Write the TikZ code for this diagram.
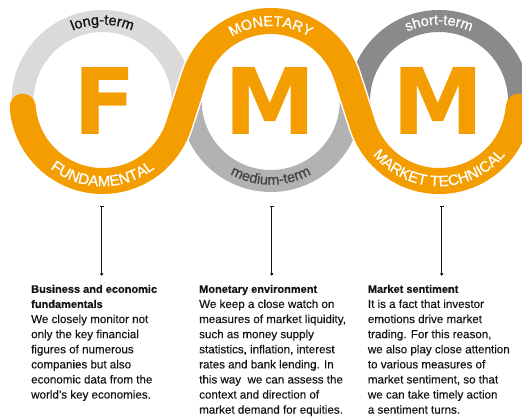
\documentclass[tikz,border=0pt]{standalone}
\usepackage{fontspec}
\setmainfont{Liberation Sans}
\newfontfamily\bigfont{DejaVu Sans}
\newfontfamily\arcfam[FakeBold=0.9]{Liberation Sans}
\newfontfamily\bodyfam[FakeBold=0.3]{Liberation Sans}
\usetikzlibrary{decorations.text, calc}
\definecolor{orng}{RGB}{243,157,0}
\definecolor{gA}{RGB}{218,218,218}
\definecolor{gB}{RGB}{178,178,178}
\definecolor{gC}{RGB}{138,138,138}
\definecolor{txt}{RGB}{20,20,20}
\definecolor{txtB}{RGB}{70,70,70}
\newcommand\arcfont{\arcfam\fontsize{14.4}{14.4}\selectfont}
\newcommand\arcfontb{\arcfam\fontsize{15}{15}\selectfont}
\newcommand\ttlfont{\bfseries\fontsize{11}{15.1}\selectfont}
\begin{document}
\begin{tikzpicture}[x=1pt,y=1pt,
  ring/.style={line width=22pt},
  bigletter/.style={inner sep=0pt, text=orng, font=\bigfont\bfseries\fontsize{92}{92}\selectfont},
  wave/.style={orng, line width=26pt, line cap=round, preaction={draw=white, line width=29pt}},
  conn/.style={draw=txt, line width=0.8pt},
  body/.style={inner sep=0pt, align=left, text=txt, anchor=north west, font=\bodyfam\fontsize{11.6}{15.1}\selectfont}
]
\useasboundingbox (0,0) rectangle (522,419);
\clip (0,0) rectangle (522,419);
\coordinate (C1) at (102.5,318);
\coordinate (C2) at (270.75,318);
\coordinate (C3) at (439,318);
% gray rings
\draw[ring, gA] (C1) circle[radius=80];
\draw[ring, gB] (C2) circle[radius=80];
\draw[ring, gC] (C3) circle[radius=80];
% orange wave
\draw[wave] ($(C1)+(184:80)$) arc[start angle=184, end angle=342, radius=80]
  -- ($(C2)+(162:80)$) arc[start angle=162, end angle=18, radius=80]
  -- ($(C3)+(198:80)$) arc[start angle=198, end angle=356, radius=80];
% arc labels
\path[decorate, decoration={text along path, text align=center, text color=txt, text={|\arcfont|long-term}}]
  ($(C1)+(150:76.3)$) arc[start angle=150, end angle=30, radius=76.3];
\path[decorate, decoration={text along path, text align=center, text color=white, text={|\arcfontb|FUNDAMENTAL}}]
  ($(C1)+(195:85.3)$) arc[start angle=195, end angle=345, radius=85.3];
\path[decorate, decoration={text along path, text align=center, text color=white, text={|\arcfont|MONETARY}}]
  ($(C2)+(150:75)$) arc[start angle=150, end angle=30, radius=75];
\path[decorate, decoration={text along path, text align=center, text color=txtB, text={|\arcfont|medium-term}}]
  ($(C2)+(200:83.7)$) arc[start angle=200, end angle=340, radius=83.7];
\path[decorate, decoration={text along path, text align=center, text color=white, text={|\arcfont|short-term}}]
  ($(C3)+(150:76.3)$) arc[start angle=150, end angle=30, radius=76.3];
\path[decorate, decoration={text along path, text align=center, text color=white, text={|\arcfontb|MARKET TECHNICAL}}]
  ($(C3)+(185:85.3)$) arc[start angle=185, end angle=355, radius=85.3];
% big letters
\node[bigletter] (F1) at (105,318.5) {F};
\node[bigletter] (M2) at (270.5,318.5) {M};
\node[bigletter] (M3) at (438.5,318.5) {M};
% connectors
\coordinate (L1t) at (101.7,213); \coordinate (L1b) at (101.7,145);
\coordinate (L2t) at (271.7,213); \coordinate (L2b) at (271.7,145);
\coordinate (L3t) at (441.7,213); \coordinate (L3b) at (441.7,145);
\foreach \i in {1,2,3}{
  \draw[conn] (L\i t) -- (L\i b);
  \draw[conn] ($(L\i t)+(-2,0)$) -- ($(L\i t)+(2,0)$);
  \fill[txt] (L\i b) circle[radius=1.6];
}
% text blocks
\node[body] (T1) at (31,134.3) {{\ttlfont Business and economic}\\{\ttlfont fundamentals}\\We closely monitor not\\only the key financial\\figures of numerous\\companies but also\\economic data from the\\world’s key economies.};
\node[body] (T2) at (199,134.3) {{\ttlfont Monetary environment}\\We keep a close watch on\\measures of market liquidity,\\such as money supply\\statistics, inflation, interest\\rates and bank lending. In\\this way\ \ we can assess the\\context and direction of\\market demand for equities.};
\node[body] (T3) at (367.7,134.3) {{\ttlfont Market sentiment}\\It is a fact that investor\\emotions drive market\\trading. For this reason,\\we also play close attention\\to various measures of\\market sentiment, so that\\we can take timely action\\a sentiment turns.};
\end{tikzpicture}
\end{document}
